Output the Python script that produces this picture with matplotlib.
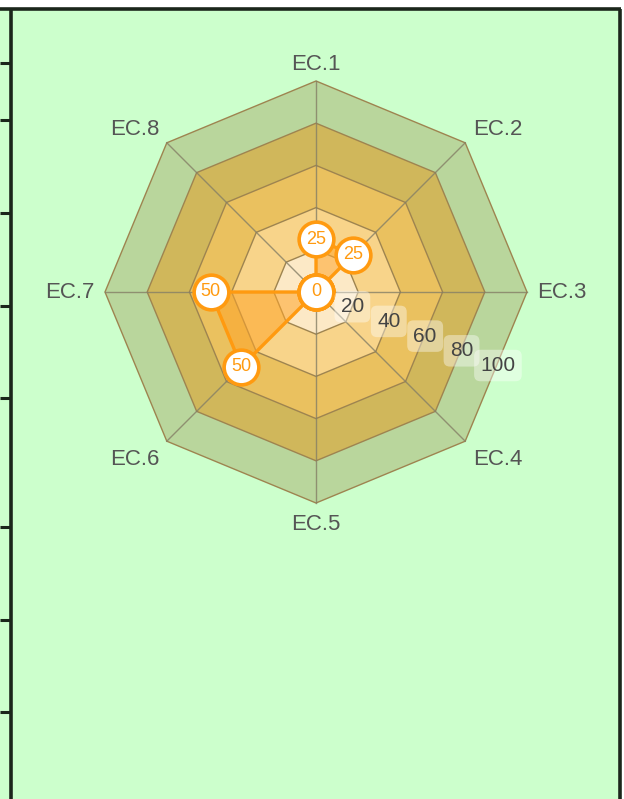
import numpy as np
import matplotlib
matplotlib.use("Agg")
import matplotlib.pyplot as plt
from matplotlib.patches import Polygon, Rectangle

# Chart data
categories = ["EC.1", "EC.2", "EC.3", "EC.4", "EC.5", "EC.6", "EC.7", "EC.8"]
values = [25, 25, 0, 0, 0, 50, 50, 0]
ring_levels = [20, 40, 60, 80, 100]
ring_labels = ["20", "40", "60", "80", "100"]

# Styling
bg_green = "#CCFFCC"
ring_colors = ["#FCE9C6", "#F8D48A", "#EAC15F", "#D0B75B", "#B9D69C"]
series_color = "#FF9A10"
border_color = "#1B261B"

W, H = 624, 799
cx, cy = 316, 292          # radar centre in pixels
k = 2.11                   # pixels per value unit

fig = plt.figure(figsize=(W / 100, H / 100), dpi=100)

# background / page frame in pixel coordinates
bg = fig.add_axes([0, 0, 1, 1])
bg.set_xlim(0, W)
bg.set_ylim(H, 0)
bg.axis("off")
bg.add_patch(Rectangle((0, 0), W, H, color="white", zorder=0))
bg.add_patch(Rectangle((0, 9), 620, H, color=bg_green, zorder=1))
bg.plot([0, 621], [9, 9], color=border_color, lw=2.6, solid_capstyle="butt", zorder=2)
bg.plot([10.5, 10.5], [9, H], color=border_color, lw=2.6, solid_capstyle="butt", zorder=2)
bg.plot([620, 620], [9, H], color=border_color, lw=2.6, solid_capstyle="butt", zorder=2)
for yd in [63, 120, 213, 306, 398, 527, 620, 712]:
    bg.plot([0, 10], [yd, yd], color=border_color, lw=2.2, solid_capstyle="butt", zorder=2)

# radar axes in value units, centred on the chart centre
ax = fig.add_axes([0, 0, 1, 1])
ax.set_xlim(-cx / k, (W - cx) / k)
ax.set_ylim(-(H - cy) / k, cy / k)
ax.set_facecolor("none")
ax.axis("off")

n = len(categories)
theta = np.pi / 2 - np.arange(n) * 2 * np.pi / n
cos_t, sin_t = np.cos(theta), np.sin(theta)

# concentric octagon bands, outermost first
for lvl, col in reversed(list(zip(ring_levels, ring_colors))):
    pts = np.column_stack([lvl * cos_t, lvl * sin_t])
    ax.add_patch(Polygon(pts, closed=True, facecolor=col, edgecolor="#9E8450",
                         lw=1.0, zorder=2))

# spokes
for c, s in zip(cos_t, sin_t):
    ax.plot([0, 100 * c], [0, 100 * s], color="#857F66", lw=1.0, alpha=0.8, zorder=3)

# series
vals = np.array(values, dtype=float)
sx, sy = vals * cos_t, vals * sin_t
ax.add_patch(Polygon(np.column_stack([sx, sy]), closed=True, facecolor="#FFA52A",
                     alpha=0.55, edgecolor="none", zorder=4))
ax.plot(np.append(sx, sx[0]), np.append(sy, sy[0]), color=series_color, lw=2.4, zorder=5)
ax.plot(sx, sy, "o", ms=25, mfc="white", mec=series_color, mew=2.6, zorder=6)
seen = set()
for x, y, v in zip(sx, sy, values):
    key = (round(x, 3), round(y, 3))
    if key in seen:
        continue
    seen.add(key)
    ax.text(x, y, f"{v}", ha="center", va="center", color=series_color,
            fontsize=13, family="Liberation Sans", zorder=7)

# ring value labels along a diagonal
ang = np.deg2rad(-22)
for lvl, lab in zip(ring_levels, ring_labels):
    ax.text(lvl * 0.93 * np.cos(ang), lvl * 0.93 * np.sin(ang), lab,
            ha="center", va="center", color="#444444", fontsize=15,
            family="Liberation Sans", zorder=8,
            bbox=dict(boxstyle="round,pad=0.3", facecolor="white",
                      edgecolor="none", alpha=0.4))

# category labels
r_lab = 105
for lab, c, s in zip(categories, cos_t, sin_t):
    ha = "center" if abs(c) < 0.1 else ("left" if c > 0 else "right")
    va = "center" if abs(s) < 0.1 else ("baseline" if s > 0 else "top")
    ax.text(r_lab * c, r_lab * s, lab, ha=ha, va=va, color="#555555",
            fontsize=16, family="Liberation Sans", zorder=8)

fig.savefig("out.png", dpi=100)
